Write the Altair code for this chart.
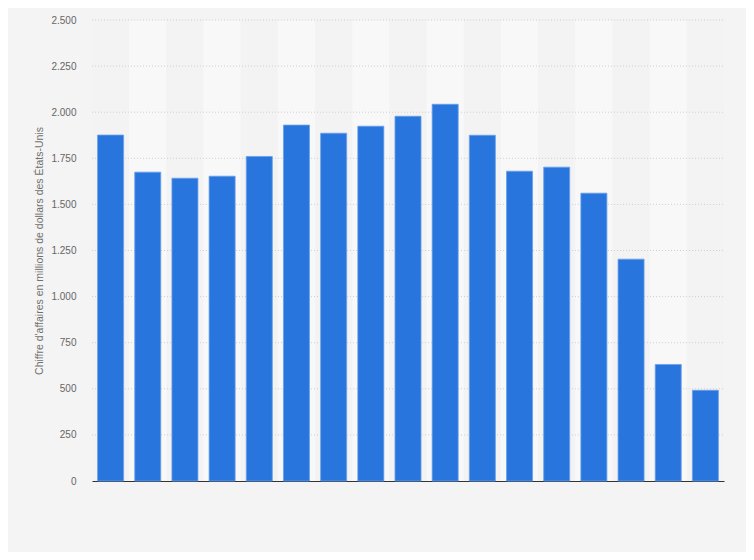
import altair as alt
import pandas as pd

years = [str(y) for y in range(2006, 2023)]
values = [1876, 1675, 1642, 1653, 1760, 1930, 1886, 1924, 1978, 2043, 1875, 1680, 1702, 1561, 1203, 632, 492]
tick_values = list(range(0, 2501, 250))

df = pd.DataFrame({"annee": years, "valeur": values})
stripes = pd.DataFrame({
    "i0": list(range(len(years))),
    "i1": [i + 1 for i in range(len(years))],
    "alt": [i % 2 for i in range(len(years))],
})
grid_df = pd.DataFrame({"v": tick_values[1:]})

yscale = alt.Scale(domain=[0, 2500], nice=False)
yaxis = alt.Axis(title="Chiffre d'affaires en millions de dollars des États-Unis",
                 values=tick_values,
                 labelExpr="replace(format(datum.value, ','), ',', '.')",
                 grid=False,
                 domain=False, ticks=False,
                 labelColor="#666666", labelFontSize=10, labelFont="Liberation Sans",
                 labelPadding=16,
                 titleColor="#707070", titleFontSize=10.5, titleFont="Liberation Sans",
                 titleFontWeight="normal", titlePadding=6)

stripe_layer = alt.Chart(stripes).mark_rect().encode(
    x=alt.X("i0:Q", scale=alt.Scale(domain=[0, len(years)], nice=False, zero=False), axis=None),
    x2="i1:Q",
    y=alt.value(0),
    y2=alt.value(461),
    color=alt.Color("alt:N", scale=alt.Scale(domain=[0, 1], range=["#f3f3f3", "#f8f8f8"]), legend=None),
)

grid_layer = alt.Chart(grid_df).mark_rule(color="#cfcfcf", strokeDash=[1, 2], strokeWidth=1).encode(
    y=alt.Y("v:Q", scale=yscale, axis=yaxis),
    x=alt.value(0),
    x2=alt.value(632),
)

bars = alt.Chart(df).mark_bar(color="#2876dd", stroke="#6aa0e8", strokeWidth=0.8).encode(
    x=alt.X("annee:N", sort=years,
            scale=alt.Scale(paddingInner=0.3, paddingOuter=0.15),
            axis=alt.Axis(title=None, labels=False, ticks=False, domain=True,
                          domainColor="#333333", domainWidth=1.2, grid=False)),
    y=alt.Y("valeur:Q", scale=yscale, axis=yaxis),
)

chart = alt.layer(stripe_layer, grid_layer, bars).resolve_scale(x="independent", color="independent").properties(
    width=632,
    height=461,
    background="#f4f4f4",
    padding={"left": 84, "top": 12, "right": 22, "bottom": 71},
    autosize=alt.AutoSizeParams(type="none"),
).configure_view(stroke=None)

chart.save("out.html", embed_options={"renderer": "svg", "actions": False})
